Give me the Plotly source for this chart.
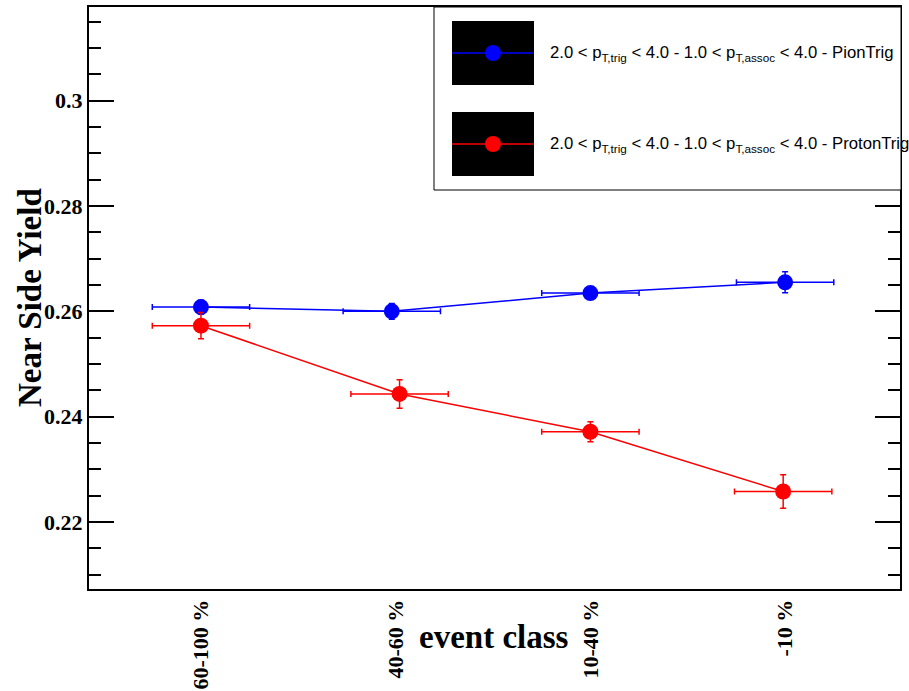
import plotly.graph_objects as go

# event classes (bins) and tick labels
categories = ["60-100 %", "40-60 %", "10-40 %", "-10 %"]
cat_pos = [0, 1, 2, 3]

# PionTrig series
pion_x = [0.0, 0.98, 2.0, 3.0]
pion_y = [0.26083, 0.26002, 0.26349, 0.26553]
pion_ey = [0.0013, 0.0015, 0.0009, 0.0020]
pion_ex = [0.25, 0.25, 0.25, 0.25]

# ProtonTrig series
proton_x = [0.0, 1.02, 2.0, 2.99]
proton_y = [0.25729, 0.24433, 0.23715, 0.22581]
proton_ey = [0.0025, 0.0027, 0.0019, 0.0032]
proton_ex = [0.25, 0.25, 0.25, 0.25]

y_ticks = [0.22, 0.24, 0.26, 0.28, 0.30]
y_ticktext = ["0.22", "0.24", "0.26", "0.28", "0.3"]

legend_labels = [
    "2.0 < p<sub>T,trig</sub> < 4.0 - 1.0 < p<sub>T,assoc</sub> < 4.0 - PionTrig",
    "2.0 < p<sub>T,trig</sub> < 4.0 - 1.0 < p<sub>T,assoc</sub> < 4.0 - ProtonTrig",
]

BLUE = "rgb(0,0,255)"
RED = "rgb(255,0,0)"

W, H = 909, 691
L, R, T, B = 89, 9, 7, 102
PW, PH = W - L - R, H - T - B


def px(x):
    return (x - L) / PW


def py(y):
    return (H - B - y) / PH


fig = go.Figure()

for xs, ys, ex, ey, col in [
    (pion_x, pion_y, pion_ex, pion_ey, BLUE),
    (proton_x, proton_y, proton_ex, proton_ey, RED),
]:
    fig.add_trace(go.Scatter(
        x=xs, y=ys, mode="lines+markers",
        line=dict(color=col, width=1.5),
        marker=dict(color=col, size=16, line=dict(width=0)),
        error_x=dict(type="data", array=ex, color=col, thickness=1.5, width=3),
        error_y=dict(type="data", array=ey, color=col, thickness=1.5, width=3),
        showlegend=False,
    ))

serif = "Liberation Serif, Times New Roman, serif"
sans = "Liberation Sans, Arial, Helvetica, sans-serif"

fig.update_layout(
    width=W, height=H,
    margin=dict(l=L, r=R, t=T, b=B, autoexpand=False),
    paper_bgcolor="white", plot_bgcolor="white",
    xaxis=dict(
        range=[-0.575, 3.59], automargin=False,
        tickvals=cat_pos, ticktext=categories,
        tickangle=-90, ticks="", showgrid=False, zeroline=False,
        showline=True, linecolor="black", linewidth=2, mirror=True,
        tickfont=dict(family=serif, size=22, color="black", weight="bold"),
    ),
    yaxis=dict(
        range=[0.2073, 0.3178], automargin=False,
        tickvals=y_ticks, ticktext=y_ticktext,
        ticks="inside", ticklen=25, tickwidth=2, tickcolor="black",
        minor=dict(dtick=0.005, ticks="inside", ticklen=12, tickwidth=2,
                   tickcolor="black", showgrid=False),
        showgrid=False, zeroline=False,
        showline=True, linecolor="black", linewidth=2, mirror="allticks",
        tickfont=dict(family=serif, size=22, color="black", weight="bold"),
    ),
)

# axis titles
fig.add_annotation(
    text="<b>Near Side Yield</b>", xref="paper", yref="paper",
    x=px(30), y=py(298), xanchor="center", yanchor="middle",
    textangle=-90, showarrow=False,
    font=dict(family=serif, size=33, color="black"),
)
fig.add_annotation(
    text="<b>event class</b>", xref="paper", yref="paper",
    x=px(494), y=py(637), xanchor="center", yanchor="middle",
    showarrow=False,
    font=dict(family=serif, size=33, color="black"),
)

# legend box
shapes = [dict(type="rect", xref="paper", yref="paper",
               x0=px(434), x1=px(901), y0=py(190), y1=py(7),
               fillcolor="white", line=dict(color="black", width=1),
               layer="above")]
for i, (lab, col) in enumerate(zip(legend_labels, [BLUE, RED])):
    top = 21 + 91 * i
    cy = top + 32
    shapes.append(dict(type="rect", xref="paper", yref="paper",
                       x0=px(452), x1=px(534), y0=py(top + 64), y1=py(top),
                       fillcolor="black", line=dict(width=0), layer="above"))
    shapes.append(dict(type="line", xref="paper", yref="paper",
                       x0=px(452), x1=px(534), y0=py(cy), y1=py(cy),
                       line=dict(color=col, width=1.5), layer="above"))
    shapes.append(dict(type="circle", xref="paper", yref="paper",
                       x0=px(485), x1=px(501), y0=py(cy + 8), y1=py(cy - 8),
                       fillcolor=col, line=dict(width=0), layer="above"))
    fig.add_annotation(
        text=lab, xref="paper", yref="paper",
        x=px(548), y=py(cy), xanchor="left", yanchor="middle",
        showarrow=False, font=dict(family=sans, size=16.7, color="black"),
    )
fig.update_layout(shapes=shapes)

fig.write_html("out.html")
